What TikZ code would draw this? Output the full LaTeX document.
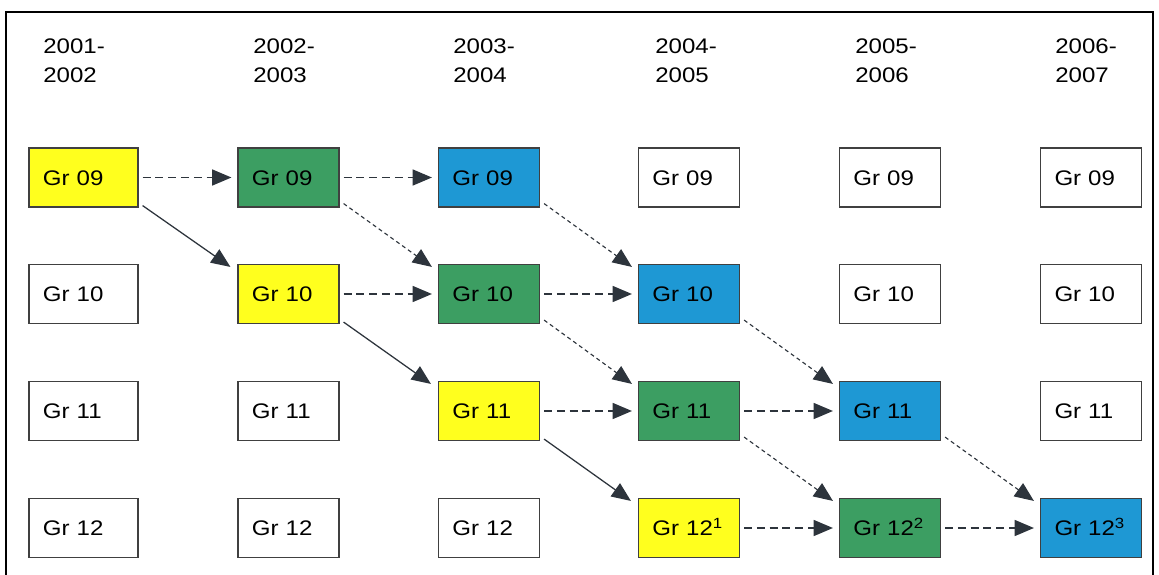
\documentclass[tikz,border=0pt]{standalone}
\usepackage{fontspec}
\setmainfont{Liberation Sans}[FakeStretch=1.14]
\usepackage{xcolor}
\usepackage{tikz}
\usetikzlibrary{arrows.meta}
\definecolor{gryellow}{RGB}{255,255,30}
\definecolor{grgreen}{RGB}{60,158,98}
\definecolor{grblue}{RGB}{30,152,212}
\definecolor{arrowgray}{RGB}{45,52,60}

\begin{document}
\begin{tikzpicture}[x=0.025cm,y=-0.025cm,font=\fontsize{15}{21}\selectfont,
  year/.style={anchor=north west,align=left,inner sep=0pt},
  grbox/.style={draw=black!75,line width=0.8pt,align=left,text width=1.825cm,
    minimum height=1.475cm,inner xsep=0.35cm,inner ysep=0pt,text height=10.7pt,text depth=0pt},
  widebox/.style={grbox,text width=2.025cm},
  hor/.style={arrowgray,line width=0.9pt,dash pattern=on 2mm off 1.2mm,
    -{Triangle[length=4.8mm,width=4mm]},shorten <=0.1cm,shorten >=0.15cm},
  diag/.style={arrowgray,line width=0.8pt,dash pattern=on 1mm off 0.8mm,
    -{Triangle[length=4.8mm,width=4mm]}},
  move/.style={arrowgray,line width=0.9pt,-{Triangle[length=4.8mm,width=4mm]}}]
  \useasboundingbox (0,0) rectangle (1159,574);
  % frame, open at the bottom
  \draw[overlay,line width=1.3pt] (6,600) -- (6,12) -- (1153,12) -- (1153,600);

  % school years
  \node[year] (ya) at (43,38) {2001-\\2002};
  \node[year] (yb) at (253,38) {2002-\\2003};
  \node[year] (yc) at (453,38) {2003-\\2004};
  \node[year] (yd) at (655,38) {2004-\\2005};
  \node[year] (ye) at (855,38) {2005-\\2006};
  \node[year] (yf) at (1055,38) {2006-\\2007};

  % 2001-2002
  \node[widebox,fill=gryellow] (a09) at (83.5,177.5) {Gr 09};
  \node[widebox] (a10) at (83.5,294) {Gr 10};
  \node[widebox] (a11) at (83.5,411) {Gr 11};
  \node[widebox] (a12) at (83.5,528) {Gr 12};
  % 2002-2003
  \node[grbox,fill=grgreen] (b09) at (288.5,177.5) {Gr 09};
  \node[grbox,fill=gryellow] (b10) at (288.5,294) {Gr 10};
  \node[grbox] (b11) at (288.5,411) {Gr 11};
  \node[grbox] (b12) at (288.5,528) {Gr 12};
  % 2003-2004
  \node[grbox,fill=grblue] (c09) at (489,177.5) {Gr 09};
  \node[grbox,fill=grgreen] (c10) at (489,294) {Gr 10};
  \node[grbox,fill=gryellow] (c11) at (489,411) {Gr 11};
  \node[grbox] (c12) at (489,528) {Gr 12};
  % 2004-2005
  \node[grbox] (d09) at (689,177.5) {Gr 09};
  \node[grbox,fill=grblue] (d10) at (689,294) {Gr 10};
  \node[grbox,fill=grgreen] (d11) at (689,411) {Gr 11};
  \node[grbox,fill=gryellow] (d12) at (689,528) {Gr 12\textsuperscript{1}};
  % 2005-2006
  \node[grbox] (e09) at (890,177.5) {Gr 09};
  \node[grbox] (e10) at (890,294) {Gr 10};
  \node[grbox,fill=grblue] (e11) at (890,411) {Gr 11};
  \node[grbox,fill=grgreen] (e12) at (890,528) {Gr 12\textsuperscript{2}};
  % 2006-2007
  \node[grbox] (f09) at (1091,177.5) {Gr 09};
  \node[grbox] (f10) at (1091,294) {Gr 10};
  \node[grbox] (f11) at (1091,411) {Gr 11};
  \node[grbox,fill=grblue] (f12) at (1091,528) {Gr 12\textsuperscript{3}};

  % same grade next year
  \draw[hor] (a09) -- (b09);
  \draw[hor] (b09) -- (c09);
  \draw[hor] (b10) -- (c10);
  \draw[hor] (c10) -- (d10);
  \draw[hor] (c11) -- (d11);
  \draw[hor] (d11) -- (e11);
  \draw[hor] (d12) -- (e12);
  \draw[hor] (e12) -- (f12);

  % promoted cohort
  \draw[move] ([xshift=0.1cm,yshift=0.05cm]a09.south east) -- ([xshift=-0.175cm,yshift=-0.075cm]b10.north west);
  \draw[move] ([xshift=0.1cm,yshift=0.05cm]b10.south east) -- ([xshift=-0.175cm,yshift=-0.075cm]c11.north west);
  \draw[move] ([xshift=0.1cm,yshift=0.05cm]c11.south east) -- ([xshift=-0.175cm,yshift=-0.075cm]d12.north west);
  \draw[diag] ([xshift=0.1cm,yshift=0.1cm]b09.south east) -- ([xshift=-0.15cm,yshift=-0.075cm]c10.north west);
  \draw[diag] ([xshift=0.1cm,yshift=0.1cm]c10.south east) -- ([xshift=-0.15cm,yshift=-0.075cm]d11.north west);
  \draw[diag] ([xshift=0.1cm,yshift=0.1cm]d11.south east) -- ([xshift=-0.15cm,yshift=-0.075cm]e12.north west);
  \draw[diag] ([xshift=0.1cm,yshift=0.1cm]c09.south east) -- ([xshift=-0.15cm,yshift=-0.075cm]d10.north west);
  \draw[diag] ([xshift=0.1cm,yshift=0.1cm]d10.south east) -- ([xshift=-0.15cm,yshift=-0.075cm]e11.north west);
  \draw[diag] ([xshift=0.1cm,yshift=0.1cm]e11.south east) -- ([xshift=-0.15cm,yshift=-0.075cm]f12.north west);
\end{tikzpicture}
\end{document}
